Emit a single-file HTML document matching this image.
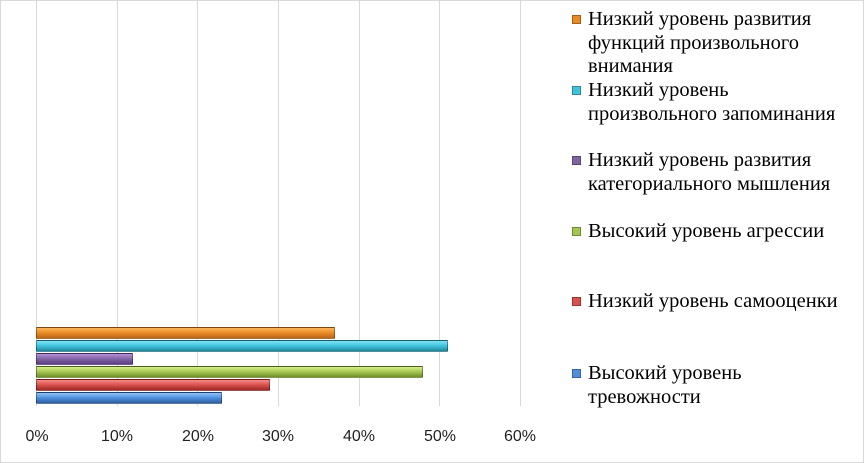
<!DOCTYPE html>
<html><head><meta charset="utf-8"><style>
body{margin:0;background:#fff}
#c{position:relative;width:862px;height:461px;border:1px solid #d9d9d9;overflow:hidden;background:#fff}
.g{position:absolute;top:0;height:405px;width:1px;background:#d9d9d9}
.b{position:absolute;left:35px;height:12px;box-sizing:border-box;border:1px solid rgba(0,0,0,.35);border-radius:1px}
.t{position:absolute;top:427px;font:16px "Liberation Sans",sans-serif;color:#222;width:50px;text-align:center}
.l{position:absolute;left:587px;font:20.5px/23.5px "Liberation Serif",serif;color:#000;white-space:nowrap}
.m{position:absolute;left:571px;width:9px;height:9px;border:1px solid rgba(0,0,0,.3);box-sizing:border-box}
</style></head><body><div id="c">
<div class="g" style="left:35px"></div><div class="g" style="left:116px"></div><div class="g" style="left:196px"></div><div class="g" style="left:277px"></div><div class="g" style="left:358px"></div><div class="g" style="left:438px"></div><div class="g" style="left:519px"></div>
<div class="b" style="top:326px;width:299px;background:linear-gradient(#fbb45a,#e98a25 50%,#b9651a)"></div>
<div class="b" style="top:339px;width:412px;background:linear-gradient(#7fe3f5,#3fc3dd 50%,#22879c)"></div>
<div class="b" style="top:352px;width:97px;background:linear-gradient(#b58fdb,#8064a2 50%,#5b3f80)"></div>
<div class="b" style="top:365px;width:387px;background:linear-gradient(#d6ef85,#a3c650 50%,#6e8c2b)"></div>
<div class="b" style="top:378px;width:234px;background:linear-gradient(#f88a86,#d9504c 50%,#9c2a27)"></div>
<div class="b" style="top:391px;width:186px;background:linear-gradient(#8fc1f7,#4f8fdc 50%,#2e5e9e)"></div>
<div class="t" style="left:11px">0%</div><div class="t" style="left:91px">10%</div><div class="t" style="left:172px">20%</div><div class="t" style="left:252px">30%</div><div class="t" style="left:333px">40%</div><div class="t" style="left:414px">50%</div><div class="t" style="left:494px">60%</div>
<div class="m" style="top:14px;background:#e98a25"></div><div class="l" style="top:7px">Низкий уровень развития<br>функций произвольного<br>внимания</div>
<div class="m" style="top:85px;background:#3fc3dd"></div><div class="l" style="top:78px">Низкий уровень<br>произвольного запоминания</div>
<div class="m" style="top:155px;background:#8064a2"></div><div class="l" style="top:148px">Низкий уровень развития<br>категориального мышления</div>
<div class="m" style="top:226px;background:#a3c650"></div><div class="l" style="top:219px">Высокий уровень агрессии</div>
<div class="m" style="top:296px;background:#d9504c"></div><div class="l" style="top:289px">Низкий уровень самооценки</div>
<div class="m" style="top:368px;background:#4f8fdc"></div><div class="l" style="top:361px">Высокий уровень<br>тревожности</div>
</div></body></html>
